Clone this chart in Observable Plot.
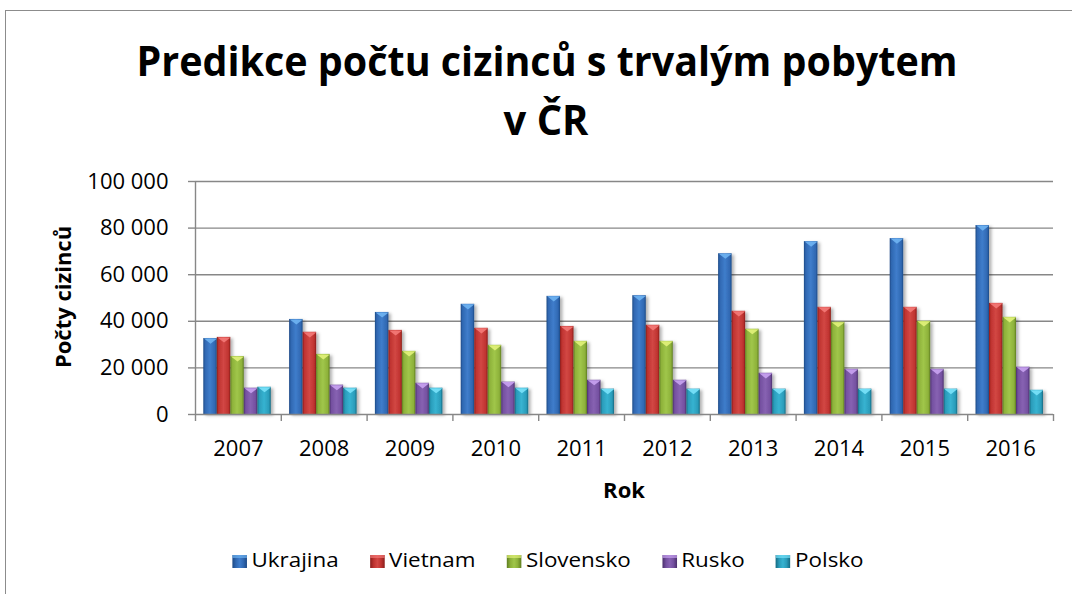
<!DOCTYPE html>
<html><head><meta charset="utf-8">
<script src="https://cdn.jsdelivr.net/npm/d3@7"></script>
<script src="https://cdn.jsdelivr.net/npm/@observablehq/plot@0.6"></script>
<style>
html,body{margin:0;padding:0;background:#fff;}
body{width:1072px;height:594px;overflow:hidden;position:relative;font-family:"Open Sans",sans-serif;color:#000;}
#border{position:absolute;left:5px;top:10px;width:1200px;height:800px;border-left:1.5px solid #8c8c8c;border-top:1.5px solid #8c8c8c;}
#title{position:absolute;left:0;top:0;}
#chart{position:absolute;left:0;top:170px;}
#ylabel{position:absolute;left:62px;top:297px;transform:translate(-50%,-50%) rotate(-90deg);font-weight:700;font-size:22px;line-height:1;white-space:nowrap;}
#xlabel{position:absolute;left:624px;top:474px;transform:translateX(-50%);font-weight:700;font-size:22px;line-height:30px;white-space:nowrap;}
#legend{position:absolute;left:548px;top:546px;transform:translateX(-50%) scaleX(1.12);display:flex;gap:28px;align-items:center;font-size:20px;line-height:28px;white-space:nowrap;}
.item{display:flex;align-items:center;gap:4px;}
.sw{width:13px;height:13px;display:inline-block;margin-top:2px;}
</style>
</head><body>
<div id="border"></div>
<div id="title"></div>
<div id="chart"></div>
<div id="ylabel">Počty cizinců</div>
<div id="xlabel">Rok</div>
<div id="legend"></div>
<script>
// ---- data ----
const titleLines = ["Predikce počtu cizinců s trvalým pobytem", "v ČR"];
const years = [2007, 2008, 2009, 2010, 2011, 2012, 2013, 2014, 2015, 2016];
const series = ["Ukrajina", "Vietnam", "Slovensko", "Rusko", "Polsko"];
const ukrajina  = [32600, 40800, 43800, 47300, 50700, 51000, 69000, 74200, 75500, 81100];
const vietnam   = [33100, 35300, 36100, 37000, 37800, 38300, 44300, 46000, 46000, 47700];
const slovensko = [24900, 25800, 27100, 29700, 31400, 31400, 36600, 39600, 40000, 41700];
const rusko     = [11300, 12600, 13400, 13900, 14700, 14700, 17700, 19400, 19400, 20300];
const polsko    = [11700, 11300, 11300, 11300, 10900, 10900, 10900, 10900, 10900, 10400];
const yTicks = [0, 20000, 40000, 60000, 80000, 100000];

const values = [ukrajina, vietnam, slovensko, rusko, polsko];
const palette = [
  {dark:"#1d4a86", base:"#3068b2", light:"#3f7dcb", top:"#6fb4f2"},
  {dark:"#8a1d1b", base:"#bf3330", light:"#d24744", top:"#f47a78"},
  {dark:"#5e7d20", base:"#8db13a", light:"#a0c64a", top:"#e2f27a"},
  {dark:"#4b306c", base:"#7450a0", light:"#8762b2", top:"#c9a3f2"},
  {dark:"#156a82", base:"#2a9cba", light:"#37b3d1", top:"#7ae2fa"}
];

const data = series.flatMap((s, i) => years.map((y, j) => ({series: s, si: i, year: y, value: values[i][j]})));

// ---- title ----
const tsvg = d3.select("#title").append("svg").attr("width", 1072).attr("height", 165);
tsvg.append("text").attr("x", 547).attr("y", 76).attr("text-anchor", "middle")
  .attr("font-family", "Open Sans").attr("font-weight", 700).attr("font-size", 41)
  .attr("textLength", 821).attr("lengthAdjust", "spacingAndGlyphs").text(titleLines[0]);
tsvg.append("text").attr("x", 546).attr("y", 135).attr("text-anchor", "middle")
  .attr("font-family", "Open Sans").attr("font-weight", 700).attr("font-size", 41)
  .attr("textLength", 85).attr("lengthAdjust", "spacingAndGlyphs").text(titleLines[1]);

// ---- chart ----
const W = 1072, H = 340, ML = 195, MR = 19, MT = 11, MB = 96;
const bw = (W - ML - MR) / years.length;
const start = 8.3, barW = 13.5;
const grey = "#878787";
const boundaries = [years[0] - 0.5, ...years.map(y => y + 0.5)];
const bevel = {
  draw(ctx, size) {
    const r = Math.sqrt(size / Math.PI);
    ctx.moveTo(-1.6 * r, 0);
    ctx.lineTo(1.6 * r, 0);
    ctx.lineTo(0, 1.25 * r);
    ctx.closePath();
  }
};

const barMarks = series.flatMap((s, i) => {
  const d = data.filter(e => e.si === i);
  const il = start + barW * i;
  const ir = bw - start - barW * (i + 1);
  return [
    Plot.rectY(d, {x1: e => e.year - 0.5, x2: e => e.year + 0.5, y: "value",
      insetLeft: il, insetRight: ir, fill: `url(#g${i})`}),
    Plot.dot(d, {x: "year", y: "value", symbol: bevel, r: 4.1, fill: palette[i].top,
      stroke: "none", dx: -bw / 2 + il + barW / 2, fillOpacity: 0.9})
  ];
});

const chart = Plot.plot({
  width: W, height: H,
  marginLeft: ML, marginRight: MR, marginTop: MT, marginBottom: MB,
  style: {fontFamily: "Open Sans", fontSize: "22px", background: "transparent", overflow: "visible", color: "#000"},
  x: {type: "linear", domain: [years[0] - 0.5, years[years.length - 1] + 0.5]},
  y: {domain: [0, 100000]},
  marks: [
    Plot.ruleY(yTicks.slice(1), {stroke: grey, strokeWidth: 1.4}),
    ...barMarks,
    Plot.ruleY([0], {stroke: grey, strokeWidth: 1.4}),
    Plot.ruleX([boundaries[0]], {stroke: grey, strokeWidth: 1.4}),
    Plot.axisY({ticks: yTicks, tickSize: 7, tickPadding: 20, stroke: grey, strokeWidth: 1.4, fill: "#000",
      fontSize: 22, label: null, tickFormat: d => d3.format(",")(d).replace(/,/g, " ")}),
    Plot.axisX({ticks: boundaries, tickSize: 7, stroke: grey, strokeWidth: 1.4, label: null, tickFormat: () => ""}),
    Plot.axisX({ticks: years, tickSize: 0, tickPadding: 26, fill: "#000", fontSize: 22, label: null, tickFormat: d => String(d)})
  ]
});

// gradients & shadow
const sel = d3.select(chart);
const defs = sel.insert("defs", ":first-child");
palette.forEach((p, i) => {
  const g = defs.append("linearGradient").attr("id", `g${i}`).attr("x1", 0).attr("x2", 1).attr("y1", 0).attr("y2", 0);
  [[0, p.dark], [0.14, p.base], [0.5, p.light], [0.86, p.base], [1, p.dark]].forEach(([o, c]) =>
    g.append("stop").attr("offset", o).attr("stop-color", c));
});
const f = defs.append("filter").attr("id", "sh").attr("x", "-20%").attr("y", "-10%").attr("width", "160%").attr("height", "130%");
f.append("feDropShadow").attr("dx", 2.5).attr("dy", 1.5).attr("stdDeviation", 1.6).attr("flood-color", "#000").attr("flood-opacity", 0.3);
sel.selectAll("g[aria-label='rect']").attr("filter", "url(#sh)");

document.getElementById("chart").appendChild(chart);

// ---- legend ----
const leg = d3.select("#legend");
series.forEach((s, i) => {
  const p = palette[i];
  const it = leg.append("div").attr("class", "item");
  it.append("span").attr("class", "sw")
    .style("background", `linear-gradient(to right, ${p.dark}, ${p.base} 25%, ${p.light} 50%, ${p.base} 75%, ${p.dark})`)
    .style("box-shadow", `inset 0 3px 0 ${p.top}aa`);
  it.append("span").text(s);
});
</script>
</body></html>
